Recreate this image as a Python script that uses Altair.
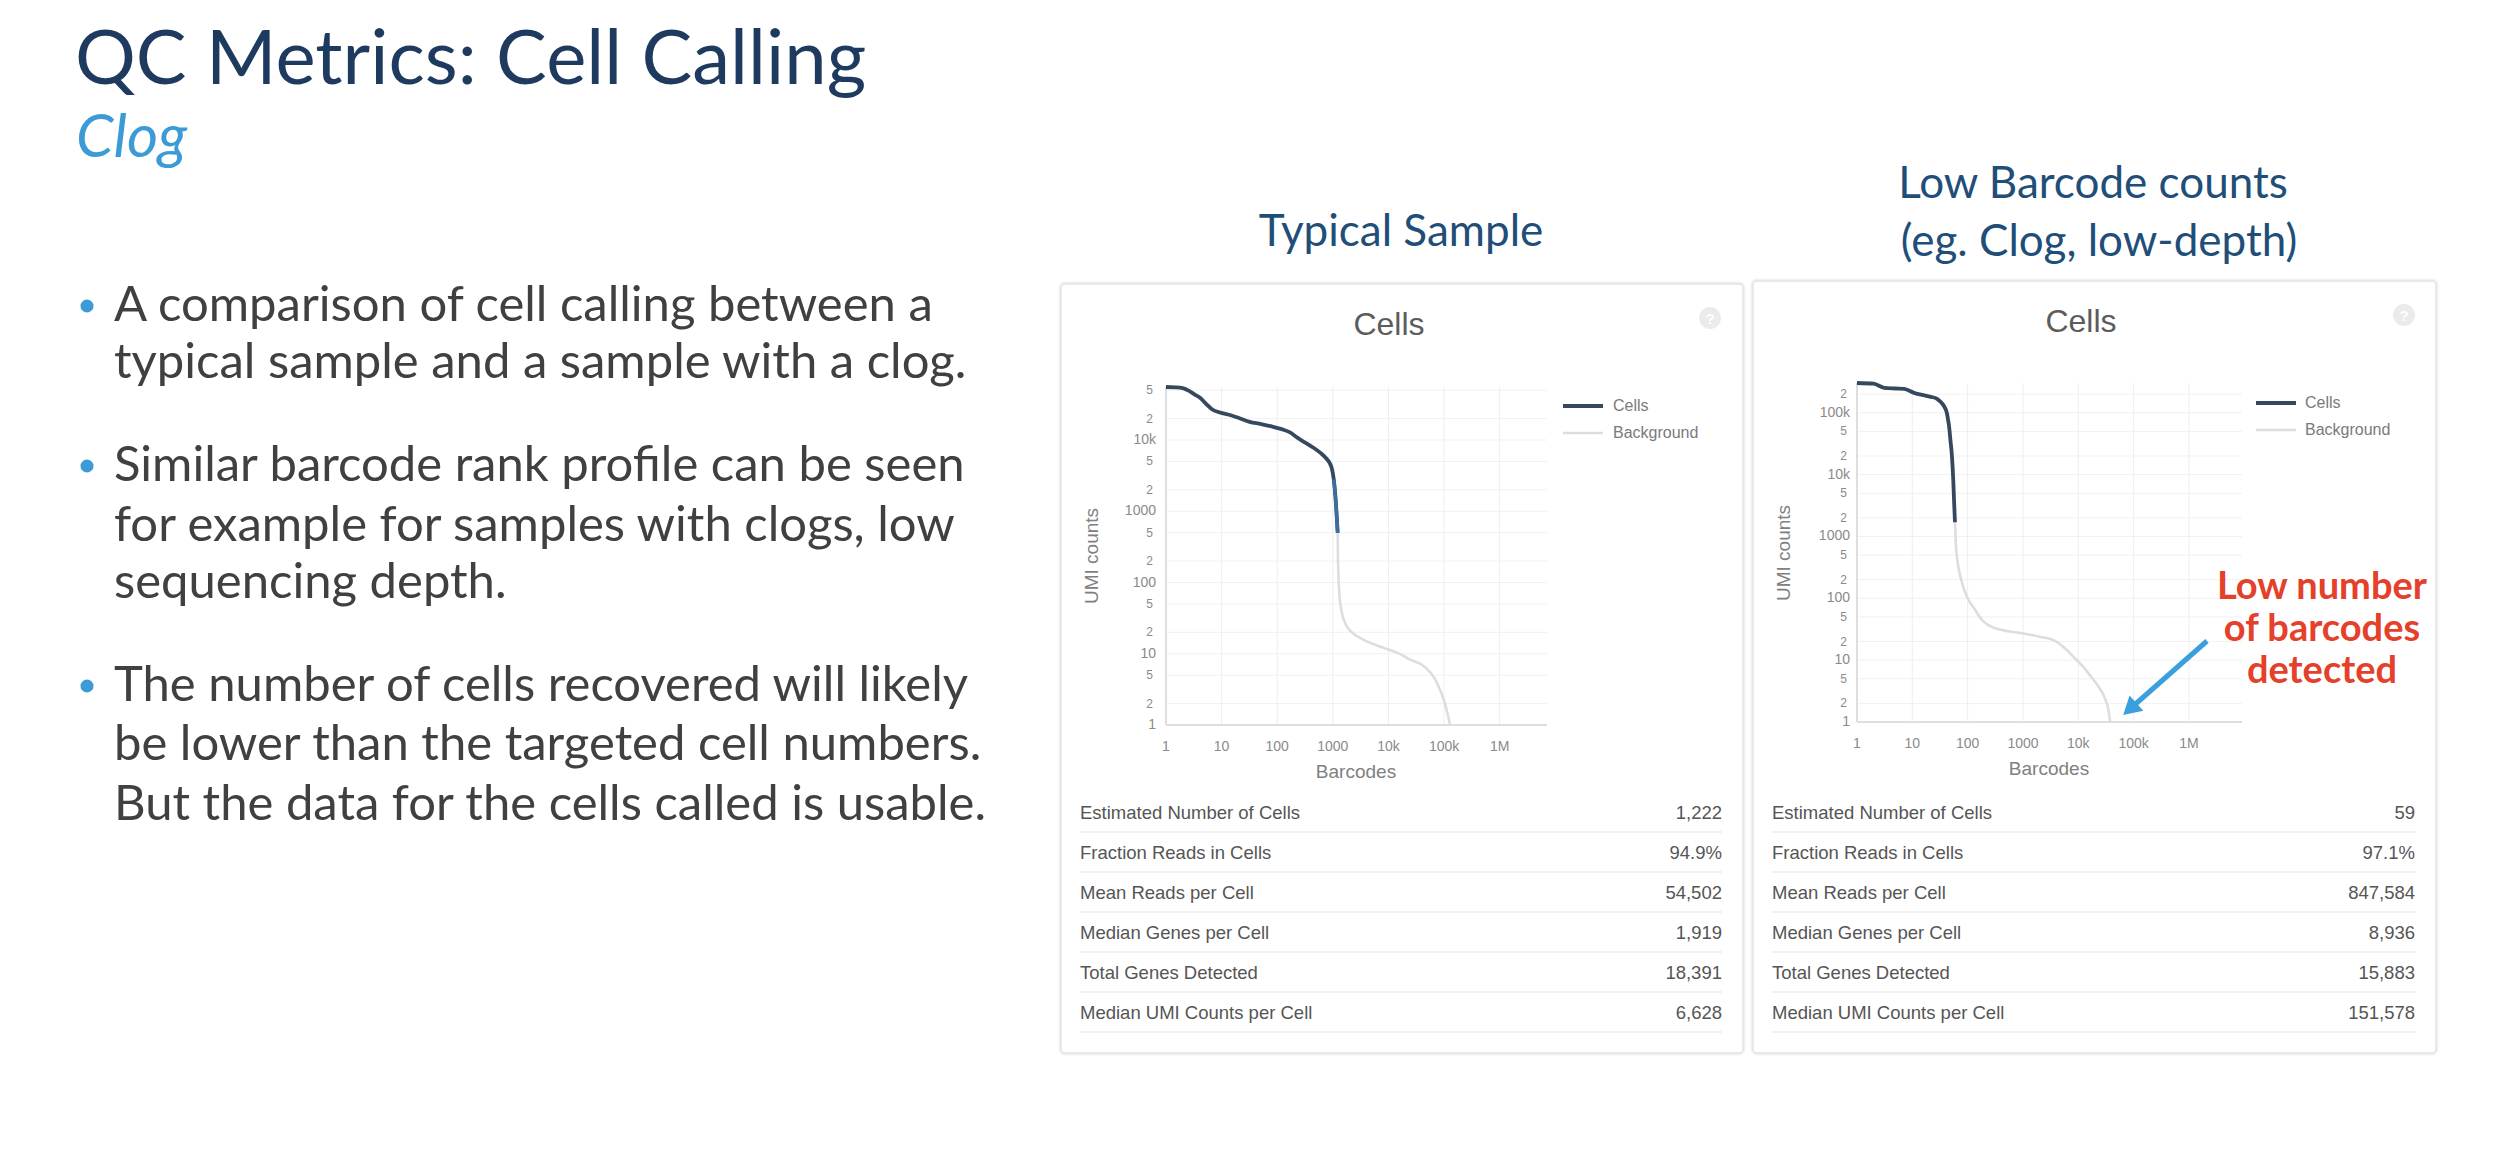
import altair as alt
import pandas as pd

OFF = 8
W, H = 2494, 1144

# ---------------- data ----------------
typical_cells_x = [1, 1.5, 2, 2.6, 3.3, 4.2, 5.3, 6.7, 9, 13, 20, 32, 50, 80, 120, 170, 230, 320, 450, 600, 750, 870, 960, 1040, 1100, 1160, 1222]
typical_cells_y = [55500, 55000, 53500, 49000, 43500, 38500, 32000, 27000, 24500, 22800, 20500, 18000, 16800, 15500, 14200, 12800, 10800, 9200, 7800, 6600, 5600, 4800, 4000, 2800, 1800, 1000, 500]
typical_bg_x = [1222, 1235, 1270, 1330, 1450, 1700, 2200, 3200, 5000, 8500, 15000, 25000, 40000, 55000, 70000, 85000, 100000, 112000, 122000, 128000]
typical_bg_y = [500, 250, 110, 60, 38, 26, 20, 16.5, 14, 12, 10.2, 8.2, 7.0, 5.6, 4.3, 3.1, 2.2, 1.6, 1.2, 1.0]

clog_cells_x = [1, 2, 3.1, 5, 7.1, 10.7, 15, 21.6, 28, 33, 38, 42, 44, 46, 49, 52, 55, 57, 59]
clog_cells_y = [303000, 295000, 253000, 247000, 244000, 210000, 195000, 181000, 168000, 148000, 125000, 100000, 80000, 62000, 35000, 20000, 8000, 3500, 1700]
clog_bg_x = [59, 61, 65, 72, 82, 100, 135, 180, 257, 400, 900, 2000, 4000, 6000, 8000, 12000, 17000, 22000, 27000, 31000, 35000, 37600]
clog_bg_y = [1700, 800, 420, 250, 160, 100, 66, 45, 35.5, 31, 27.5, 24, 20, 15, 11.5, 8, 5.4, 4.0, 3.0, 2.3, 1.6, 1.0]

metric_names = ["Estimated Number of Cells", "Fraction Reads in Cells", "Mean Reads per Cell",
                "Median Genes per Cell", "Total Genes Detected", "Median UMI Counts per Cell"]
typical_values = ["1,222", "94.9%", "54,502", "1,919", "18,391", "6,628"]
clog_values = ["59", "97.1%", "847,584", "8,936", "15,883", "151,578"]

x_tick_values = [1, 10, 100, 1000, 10000, 100000, 1000000]
x_tick_labels = ["1", "10", "100", "1000", "10k", "100k", "1M"]
typical_y_ticks = [1, 2, 5, 10, 20, 50, 100, 200, 500, 1000, 2000, 5000, 10000, 20000, 50000]
typical_y_labels = ["1", "2", "5", "10", "2", "5", "100", "2", "5", "1000", "2", "5", "10k", "2", "5"]
clog_y_ticks = [1, 2, 5, 10, 20, 50, 100, 200, 500, 1000, 2000, 5000, 10000, 20000, 50000, 100000, 200000]
clog_y_labels = ["1", "2", "5", "10", "2", "5", "100", "2", "5", "1000", "2", "5", "10k", "2", "5", "100k", "2"]

slide_title = "QC Metrics: Cell Calling"
slide_subtitle = "Clog"
bullets = [
    ["A comparison of cell calling between a", "typical sample and a sample with a clog."],
    ["Similar barcode rank profile can be seen", "for example for samples with clogs, low", "sequencing depth."],
    ["The number of cells recovered will likely", "be lower than the targeted cell numbers.", "But the data for the cells called is usable."],
]
header_typical = ["Typical Sample"]
header_clog = ["Low Barcode counts", "(eg. Clog, low-depth)"]
annotation = ["Low number", "of barcodes", "detected"]

# ---------------- layout ----------------
CELLS_COLOR = "#34495e"
MIXED_COLOR = "#3a6f9f"
BG_COLOR = "#dddddd"
AXIS_FONT = "Liberation Sans"
SLIDE_FONT = "Lato"

dummy = pd.DataFrame({"a": [0]})


def P(v):
    return v - OFF


def text_layer(rows, font, size, color, align="left", baseline="middle", weight="normal", style="normal", angle=0):
    df = pd.DataFrame([{"px": P(r[1]), "py": P(r[2]), "t": r[0]} for r in rows])
    kw = dict(font=font, fontSize=size, color=color, align=align, baseline=baseline,
              fontWeight=weight, fontStyle=style)
    if angle:
        kw["angle"] = angle
    return alt.Chart(df).mark_text(**kw).encode(
        x=alt.X("px:Q", scale=None, axis=None),
        y=alt.Y("py:Q", scale=None, axis=None),
        text="t:N",
    )


def make_plot(cx, cy, bx, by, yt, yl, xmax, ymax, left, right, top, bottom, ylab_right):
    xs = alt.Scale(type="log", domain=[1, xmax], range=[P(left), P(right)], nice=False)
    ys = alt.Scale(type="log", domain=[1, ymax], range=[P(bottom), P(top)], nice=False)

    vgrid = alt.Chart(pd.DataFrame({"v": x_tick_values})).mark_rule(color="#eeeeee", strokeWidth=1).encode(
        x=alt.X("v:Q", scale=xs, axis=None), y=alt.value(P(top)), y2=alt.value(P(bottom)))
    hgrid = alt.Chart(pd.DataFrame({"v": yt})).mark_rule(color="#f1f1f1", strokeWidth=1).encode(
        y=alt.Y("v:Q", scale=ys, axis=None), x=alt.value(P(left)), x2=alt.value(P(right)))
    yaxis = alt.Chart(dummy).mark_rule(color="#dedede", strokeWidth=2).encode(
        x=alt.value(P(left)), y=alt.value(P(top)), y2=alt.value(P(bottom)))
    xaxis = alt.Chart(dummy).mark_rule(color="#dedede", strokeWidth=2).encode(
        x=alt.value(P(left)), x2=alt.value(P(right)), y=alt.value(P(bottom)))

    cdf = pd.DataFrame({"x": cx, "y": cy, "i": list(range(len(cx)))})
    bdf = pd.DataFrame({"x": bx, "y": by, "i": list(range(len(bx)))})
    enc = dict(x=alt.X("x:Q", scale=xs, axis=None), y=alt.Y("y:Q", scale=ys, axis=None), order="i:Q")
    bg = alt.Chart(bdf).mark_line(color=BG_COLOR, strokeWidth=2.6, interpolate="monotone").encode(**enc)
    cells = alt.Chart(cdf).mark_line(color=CELLS_COLOR, strokeWidth=3.8, interpolate="monotone").encode(**enc)
    mixed = alt.Chart(cdf).transform_filter(alt.datum.y <= 3000).mark_line(
        color=MIXED_COLOR, strokeWidth=3.4, interpolate="monotone").encode(**enc)

    ldf = pd.DataFrame({"v": yt, "t": yl})
    major = alt.Chart(ldf).transform_filter("datum.t != '2' && datum.t != '5'").mark_text(
        align="right", baseline="middle", font=AXIS_FONT, fontSize=14, color="#8a8a8a").encode(
        y=alt.Y("v:Q", scale=ys, axis=None), x=alt.value(P(ylab_right)), text="t:N")
    minor = alt.Chart(ldf).transform_filter("datum.t == '2' || datum.t == '5'").mark_text(
        align="right", baseline="middle", font=AXIS_FONT, fontSize=12, color="#8a8a8a").encode(
        y=alt.Y("v:Q", scale=ys, axis=None), x=alt.value(P(ylab_right - 3)), text="t:N")
    xl = alt.Chart(pd.DataFrame({"v": x_tick_values, "t": x_tick_labels})).mark_text(
        align="center", baseline="middle", font=AXIS_FONT, fontSize=14, color="#8a8a8a").encode(
        x=alt.X("v:Q", scale=xs, axis=None), y=alt.value(P(bottom + 22)), text="t:N")
    return alt.layer(vgrid, hgrid, yaxis, xaxis, bg, cells, mixed, major, minor, xl)


plot1 = make_plot(typical_cells_x, typical_cells_y, typical_bg_x, typical_bg_y,
                  typical_y_ticks, typical_y_labels, 7.1e6, 55500, 1166, 1547, 387, 725, 1156)
plot2 = make_plot(clog_cells_x, clog_cells_y, clog_bg_x, clog_bg_y,
                  clog_y_ticks, clog_y_labels, 9.1e6, 303000, 1857, 2242, 383, 722, 1850)

# panel frames
frames_df = pd.DataFrame({"x1": [P(1061), P(1753)], "x2": [P(1743), P(2436)],
                          "y1": [P(284), P(281)], "y2": [P(1053), P(1053)]})
frame_shadow = alt.Chart(frames_df).mark_rect(fill="white", stroke="#f1f1f1", strokeWidth=5, cornerRadius=4).encode(
    x=alt.X("x1:Q", scale=None, axis=None), x2="x2:Q", y=alt.Y("y1:Q", scale=None, axis=None), y2="y2:Q")
frames = alt.Chart(frames_df).mark_rect(fill="white", stroke="#e3e3e3", strokeWidth=1.5, cornerRadius=4).encode(
    x=alt.X("x1:Q", scale=None, axis=None), x2="x2:Q", y=alt.Y("y1:Q", scale=None, axis=None), y2="y2:Q")

# table separators
sep_rows = []
for x1, x2 in [(1080, 1722), (1772, 2415)]:
    for k in range(len(metric_names)):
        sep_rows.append({"x1": P(x1), "x2": P(x2), "y": P(832 + 40 * k)})
seps = alt.Chart(pd.DataFrame(sep_rows)).mark_rule(color="#ececec", strokeWidth=1.5).encode(
    x=alt.X("x1:Q", scale=None, axis=None), x2="x2:Q", y=alt.Y("y:Q", scale=None, axis=None))

# legends
leg_rows = []
for (x1, y1) in [(1563, 406), (2256, 403)]:
    leg_rows.append({"x1": P(x1), "x2": P(x1 + 40), "y": P(y1), "s": "Cells"})
    leg_rows.append({"x1": P(x1), "x2": P(x1 + 40), "y": P(y1 + 27), "s": "Background"})
leg_df = pd.DataFrame(leg_rows)
leg_cells = alt.Chart(leg_df).transform_filter("datum.s == 'Cells'").mark_rule(color=CELLS_COLOR, strokeWidth=4).encode(
    x=alt.X("x1:Q", scale=None, axis=None), x2="x2:Q", y=alt.Y("y:Q", scale=None, axis=None))
leg_bg = alt.Chart(leg_df).transform_filter("datum.s == 'Background'").mark_rule(color=BG_COLOR, strokeWidth=2.5).encode(
    x=alt.X("x1:Q", scale=None, axis=None), x2="x2:Q", y=alt.Y("y:Q", scale=None, axis=None))
leg_text = text_layer([("Cells", 1613, 406), ("Background", 1613, 433), ("Cells", 2305, 403), ("Background", 2305, 430)],
                      AXIS_FONT, 16, "#7a7a7a")

# help icons
icon_df = pd.DataFrame({"px": [P(1710), P(2404)], "py": [P(318), P(315)]})
icons = alt.Chart(icon_df).mark_point(shape="circle", filled=True, size=480, color="#ebebeb", opacity=1).encode(
    x=alt.X("px:Q", scale=None, axis=None), y=alt.Y("py:Q", scale=None, axis=None))
icon_q = text_layer([("?", 1710, 319), ("?", 2404, 316)], AXIS_FONT, 15, "white", align="center", weight="bold")

# slide texts
title = text_layer([(slide_title, 75, 61)], SLIDE_FONT, 76, "#1f3a5f", baseline="middle", weight="normal")
subtitle = text_layer([(slide_subtitle, 76, 157)], SLIDE_FONT, 60, "#3c9ad7", baseline="alphabetic", style="italic")

bullet_y = [[306, 363], [466, 526, 583], [686, 745, 805]]
bullet_rows = []
dot_rows = []
for lines, ys in zip(bullets, bullet_y):
    dot_rows.append({"px": P(87), "py": P(ys[0])})
    for line, y in zip(lines, ys):
        bullet_rows.append((line, 114, y))
bullet_text = text_layer(bullet_rows, SLIDE_FONT, 49, "#404040")
dots = alt.Chart(pd.DataFrame(dot_rows)).mark_point(shape="circle", filled=True, size=170, color="#3c9ad7", opacity=1).encode(
    x=alt.X("px:Q", scale=None, axis=None), y=alt.Y("py:Q", scale=None, axis=None))

headers = text_layer([(header_typical[0], 1401, 233), (header_clog[0], 2093, 185), (header_clog[1], 2099, 243)],
                     SLIDE_FONT, 44, "#1f4e79", align="center")

panel_titles = text_layer([("Cells", 1389, 325), ("Cells", 2081, 322)], AXIS_FONT, 32, "#5c5c5c", align="center")
x_titles = text_layer([("Barcodes", 1356, 772), ("Barcodes", 2049, 769)], AXIS_FONT, 19, "#808080", align="center")
y_titles = text_layer([("UMI counts", 1092, 556), ("UMI counts", 1784, 553)], AXIS_FONT, 19, "#808080",
                      align="center", angle=270)

table_labels = text_layer([(m, 1080, 813 + 40 * k) for k, m in enumerate(metric_names)] +
                          [(m, 1772, 813 + 40 * k) for k, m in enumerate(metric_names)],
                          AXIS_FONT, 18.5, "#555555")
table_values = text_layer([(v, 1722, 813 + 40 * k) for k, v in enumerate(typical_values)] +
                          [(v, 2415, 813 + 40 * k) for k, v in enumerate(clog_values)],
                          AXIS_FONT, 18.5, "#555555", align="right")

annot = text_layer([(annotation[0], 2322, 588), (annotation[1], 2322, 630), (annotation[2], 2322, 672)],
                   SLIDE_FONT, 38, "#e4402a", align="center", weight="bold")

arrow_df = pd.DataFrame({"x1": [P(2207)], "y1": [P(641)], "x2": [P(2131)], "y2": [P(708)]})
arrow_line = alt.Chart(arrow_df).mark_rule(color="#3a9fdc", strokeWidth=5).encode(
    x=alt.X("x1:Q", scale=None, axis=None), y=alt.Y("y1:Q", scale=None, axis=None), x2="x2:Q", y2="y2:Q")
arrow_head = alt.Chart(pd.DataFrame({"px": [P(2132)], "py": [P(707)]})).mark_point(
    shape="triangle", filled=True, size=420, color="#3a9fdc", opacity=1, angle=228).encode(
    x=alt.X("px:Q", scale=None, axis=None), y=alt.Y("py:Q", scale=None, axis=None))

chart = alt.layer(
    frame_shadow, frames, seps, title, subtitle, bullet_text, dots, headers,
    panel_titles, icons, icon_q, x_titles, y_titles, table_labels, table_values,
    leg_cells, leg_bg, leg_text,
    plot1, plot2,
    arrow_line, arrow_head, annot,
).resolve_scale(x="independent", y="independent").properties(
    width=W, height=H, padding=0, background="white"
).configure_view(strokeWidth=0)

chart.save("out.html", embed_options={"renderer": "svg", "actions": False})
